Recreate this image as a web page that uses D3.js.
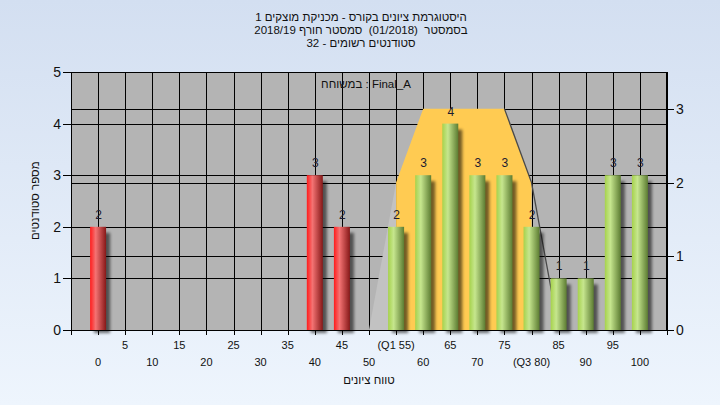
<!DOCTYPE html>
<html><head><meta charset="utf-8">
<script src="https://cdn.jsdelivr.net/npm/d3@7"></script>
<style>
html,body{margin:0;padding:0;}
#wrap{position:relative;width:720px;height:405px;overflow:hidden;}
#wrap svg{position:absolute;left:0;top:0;}
text,.lbl{font-family:"Liberation Sans",Arial,"DejaVu Sans",sans-serif;}
.lbl{position:absolute;white-space:pre;color:#111;direction:rtl;text-align:center;}
</style></head>
<body><div id="wrap"><svg id="c" width="720" height="405"></svg></div>
<script>
// ---- data ----
const categories = [0,5,10,15,20,25,30,35,40,45,50,55,60,65,70,75,80,85,90,95,100];
const counts     = [2,0,0,0,0,0,0,0,3,2,0,2,3,4,3,3,2,1,1,3,3];
const passGrade = 55;
const topRowLabels = [[5,"5"],[15,"15"],[25,"25"],[35,"35"],[45,"45"],[55,"(Q1 55)"],[65,"65"],[75,"75"],[85,"85"],[95,"95"]];
const bottomRowLabels = [[0,"0"],[10,"10"],[20,"20"],[30,"30"],[40,"40"],[50,"50"],[60,"60"],[70,"70"],[80,"(Q3 80)"],[90,"90"],[100,"100"]];
const boxOuterX = [50,55,55];   // light whisker area (min -> Q1)
const boxOuterY = [0,2,0];
const boxX = [55,55,60,75,80,80];  // orange IQR area
const boxY = [0,2,3,3,2,0];
const whiskerX = [75,80,85];
const whiskerY = [3,2,0];
const leftTicks = [0,1,2,3,4,5];
const rightTicks = [0,1,2,3];
const titleLines = ["היסטוגרמת ציונים בקורס - מכניקת מוצקים 1","בסמסטר  (01/2018)  סמסטר חורף 2018/19","סטודנטים רשומים - 32"];
const legendText = "Final_A : במשוחח";
const xTitle = "טווח ציונים";
const yTitle = "מספר סטודנטים";

// ---- layout ----
const L=71, R=667, T=72, B=330;
const svg=d3.select("#c");
const defs=svg.append("defs");
const bg=defs.append("linearGradient").attr("id","bg").attr("x1",0).attr("y1",0).attr("x2",0).attr("y2",1);
bg.append("stop").attr("offset","0%").attr("stop-color","#d3dff1");
bg.append("stop").attr("offset","100%").attr("stop-color","#eef5fd");
function cyl(id,c0,c1,c2){
  const g=defs.append("linearGradient").attr("id",id).attr("x1",0).attr("y1",0).attr("x2",1).attr("y2",0);
  g.append("stop").attr("offset","0%").attr("stop-color",c0);
  g.append("stop").attr("offset","35%").attr("stop-color",c1);
  g.append("stop").attr("offset","100%").attr("stop-color",c2);
}
cyl("red","#ff1c1c","#f47373","#861818");
cyl("green","#a6d24c","#c6e68e","#5c7c32");
defs.append("filter").attr("id","blur").attr("x","-50%").attr("y","-50%").attr("width","200%").attr("height","200%")
  .append("feGaussianBlur").attr("stdDeviation",1.8);

svg.append("rect").attr("width",720).attr("height",405).attr("fill","url(#bg)");

const x=d3.scaleLinear().domain([-5,105]).range([L,R]);
const y=d3.scaleLinear().domain([0,5]).range([B,T]);
const y2=d3.scaleLinear().domain([0,3.5]).range([B,T]);

// plot area
svg.append("rect").attr("x",L).attr("y",T).attr("width",R-L).attr("height",B-T).attr("fill","#b4b4b4");
const grid=svg.append("g").attr("stroke","#000").attr("stroke-width",1);
d3.range(-5,106,5).forEach(v=>{
  grid.append("line").attr("x1",Math.round(x(v))+0.5).attr("x2",Math.round(x(v))+0.5).attr("y1",T).attr("y2",B);
});
leftTicks.forEach(v=>grid.append("line").attr("x1",L).attr("x2",R).attr("y1",Math.round(y(v))+0.5).attr("y2",Math.round(y(v))+0.5));
rightTicks.forEach(v=>grid.append("line").attr("x1",L).attr("x2",R).attr("y1",Math.round(y2(v))+0.5).attr("y2",Math.round(y2(v))+0.5));

// box areas
const area=d3.line().x(d=>x(d[0])).y(d=>y2(d[1]));
svg.append("path").attr("d",area(boxOuterX.map((v,i)=>[v,boxOuterY[i]]))+"Z").attr("fill","#c2c2c2");
svg.append("path").attr("d",area(boxX.map((v,i)=>[v,boxY[i]]))+"Z").attr("fill","#ffcb52");
svg.append("path").attr("d",area(whiskerX.map((v,i)=>[v,whiskerY[i]]))).attr("fill","none").attr("stroke","#4a4a4a").attr("stroke-width",1.3);

// bars
const bw=16;
const data=categories.map((c,i)=>({c,v:counts[i]})).filter(d=>d.v>0);
svg.append("g").selectAll("rect").data(data).join("rect")
  .attr("x",d=>x(d.c)-bw/2+4).attr("y",d=>y(d.v)+6).attr("width",bw).attr("height",d=>B-y(d.v)-3)
  .attr("fill","#000").attr("opacity",0.55).attr("filter","url(#blur)");
svg.append("g").selectAll("rect").data(data).join("rect")
  .attr("x",d=>x(d.c)-bw/2).attr("y",d=>y(d.v)).attr("width",bw).attr("height",d=>B-y(d.v))
  .attr("fill",d=>d.c<passGrade?"url(#red)":"url(#green)");
svg.append("g").selectAll("text").data(data).join("text")
  .attr("x",d=>x(d.c)+0.5).attr("y",d=>y(d.v)-8).attr("text-anchor","middle")
  .attr("font-size",12).attr("fill","#1c1c30").text(d=>d.v);

// border
svg.append("rect").attr("x",L+0.5).attr("y",T+0.5).attr("width",R-L-1).attr("height",B-T).attr("fill","none").attr("stroke","#000");

// left axis
const la=svg.append("g");
leftTicks.forEach(v=>{
  la.append("line").attr("x1",L-8).attr("x2",L).attr("y1",Math.round(y(v))+0.5).attr("y2",Math.round(y(v))+0.5).attr("stroke","#000");
  la.append("text").attr("x",L-10).attr("y",y(v)+5).attr("text-anchor","end").attr("font-size",14).attr("fill","#111").text(v);
});
// right axis
rightTicks.forEach(v=>{
  la.append("line").attr("x1",R).attr("x2",R+7).attr("y1",Math.round(y2(v))+0.5).attr("y2",Math.round(y2(v))+0.5).attr("stroke","#000");
  la.append("text").attr("x",R+9).attr("y",y2(v)+5).attr("text-anchor","start").attr("font-size",14).attr("fill","#111").text(v);
});
// bottom axis
la.append("line").attr("x1",L-8).attr("x2",R).attr("y1",B+0.5).attr("y2",B+0.5).attr("stroke","#000");
d3.range(-5,106,5).forEach(v=>la.append("line").attr("x1",Math.round(x(v))+0.5).attr("x2",Math.round(x(v))+0.5).attr("y1",B).attr("y2",B+5).attr("stroke","#000"));
topRowLabels.forEach(([v,t])=>la.append("text").attr("x",x(v)).attr("y",349).attr("text-anchor","middle").attr("font-size",11).attr("fill","#111").text(t));
bottomRowLabels.forEach(([v,t])=>la.append("text").attr("x",x(v)).attr("y",366).attr("text-anchor","middle").attr("font-size",11).attr("fill","#111").text(t));

// Hebrew texts (right-to-left paragraphs)
const wrap=d3.select("#wrap");
function htmlText(str,cx,baseline,size,rotate){
  const w=400;
  const d=wrap.append("div").attr("class","lbl")
    .style("font-size",size+"px").style("line-height",size+"px")
    .style("width",w+"px").style("left",(cx-w/2)+"px").style("top",(baseline-size*0.84)+"px")
    .text(str);
  if(rotate){
    d.style("top",(baseline-size/2)+"px").style("transform","rotate(-90deg)").style("transform-origin","50% 50%");
  }
  return d;
}
titleLines.forEach((t,i)=>htmlText(t,361,22+i*13,11.5));
htmlText(legendText,366,89,11.5);
htmlText(xTitle,369,385,11.5);
htmlText(yTitle,36,201,11.5,true);
</script></body></html>
